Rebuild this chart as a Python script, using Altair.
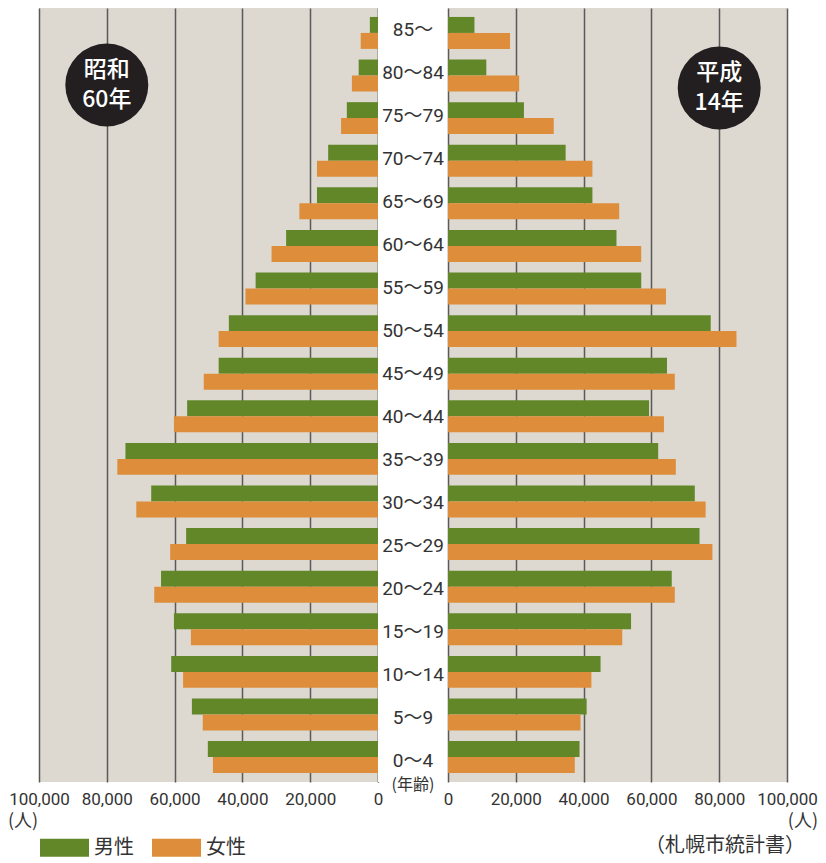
import altair as alt
import pandas as pd

ages = ["85〜", "80〜84", "75〜79", "70〜74", "65〜69", "60〜64", "55〜59", "50〜54", "45〜49",
        "40〜44", "35〜39", "30〜34", "25〜29", "20〜24", "15〜19", "10〜14", "5〜9", "0〜4"]
s60_male = [2400, 5700, 9200, 14700, 18000, 27100, 36100, 44000, 47000,
            56300, 74500, 66900, 56600, 64000, 60200, 61000, 54900, 50200]
s60_female = [5100, 7700, 10900, 18000, 23200, 31400, 39100, 47000, 51400,
              60200, 76900, 71300, 61300, 66000, 55200, 57500, 51700, 48700]
h14_male = [7800, 11300, 22400, 34700, 42600, 49700, 57000, 77500, 64600,
            59300, 62000, 72800, 74200, 66000, 54000, 45000, 40900, 38800]
h14_female = [18300, 21000, 31200, 42600, 50500, 57000, 64300, 85100, 66900,
              63700, 67200, 76000, 78000, 66900, 51400, 42300, 39100, 37400]
ticks = [0, 20000, 40000, 60000, 80000, 100000]
sexes = ["男性", "女性"]
colors = ["#628728", "#de8e3a"]

rows = []
for key, m, f in [("S60", s60_male, s60_female), ("H14", h14_male, h14_female)]:
    for a, mv, fv in zip(ages, m, f):
        rows.append({"panel": key, "age": a, "sex": "男性", "value": mv})
        rows.append({"panel": key, "age": a, "sex": "女性", "value": fv})
df = pd.DataFrame(rows)

NUM_FONT = "Roboto, Noto Sans CJK JP, sans-serif"
CJK_FONT = "Noto Sans CJK JP"
TEXT = "#333333"
W, H, MID = 339, 774, 70
BG = "#ddd9d1"

yscale = alt.Scale(domain=ages, paddingInner=0.25, paddingOuter=0.21)


def txt(t, x, y, align, size=18, font=CJK_FONT):
    return alt.Chart(pd.DataFrame({"t": [t]})).mark_text(
        font=font, fontSize=size, color=TEXT, align=align, baseline="middle"
    ).encode(text="t:N", x=alt.value(x), y=alt.value(y))


def panel(key, reverse, badge, badge_y, legend, extras):
    grid_color = ({"condition": {"test": "datum.value === 0", "value": "#1e1e1e"}, "value": "#5a5a5a"}
                  if reverse else "#5a5a5a")
    xaxis = alt.Axis(values=ticks, format=",.0f", title=None, grid=True, gridColor=grid_color,
                     gridWidth=1.5, domain=False, ticks=False, labelFont=NUM_FONT,
                     labelFontSize=17, labelColor=TEXT, labelPadding=9, labelFlush=False,
                     labelOverlap=False, labelBound=False)
    leg = alt.Legend(title=None, orient="none", legendX=1, legendY=815, direction="horizontal",
                     symbolType="M-1,-0.367H1V0.367H-1Z", symbolSize=2401, symbolStrokeWidth=0,
                     labelFont=CJK_FONT, labelFontSize=20, labelColor=TEXT, labelOffset=5,
                     columnPadding=18, symbolOpacity=1) if legend else None
    bars = alt.Chart(df[df.panel == key]).mark_bar().encode(
        x=alt.X("value:Q", scale=alt.Scale(domain=[0, 100000], reverse=reverse, nice=False), axis=xaxis),
        y=alt.Y("age:N", sort=ages, scale=yscale, axis=None),
        yOffset=alt.YOffset("sex:N", sort=sexes,
                            scale=alt.Scale(domain=sexes, paddingInner=0, paddingOuter=0)),
        color=alt.Color("sex:N", scale=alt.Scale(domain=sexes, range=colors), legend=leg),
    )
    bdf = pd.DataFrame({"value": [80000], "l1": [badge[0]], "l2": [badge[1]]})
    circle = alt.Chart(bdf).mark_point(shape="circle", filled=True, size=6889, color="#231f20",
                                       opacity=1, strokeWidth=0).encode(
        x="value:Q", y=alt.value(badge_y))
    line1 = alt.Chart(bdf).mark_text(font=CJK_FONT, fontSize=23, fontWeight=500, color="white",
                                     align="center", baseline="middle").encode(
        x="value:Q", y=alt.value(badge_y - 15), text="l1:N")
    line2 = alt.Chart(bdf).mark_text(font=CJK_FONT, fontSize=23, fontWeight=500, color="white",
                                     align="center", baseline="middle").encode(
        x="value:Q", y=alt.value(badge_y + 15), text="l2:N")
    return alt.layer(bars, circle, line1, line2, *extras).properties(
        width=W, height=H, view=alt.ViewBackground(fill=BG, stroke=None))


left = panel("S60", True, ("昭和", "60年"), 77, True, [txt("(人)", -31, 814, "left")])
right = panel("H14", False, ("平成", "14年"), 80, False,
              [txt("(人)", 370, 814, "right"), txt("（札幌市統計書）", 357, 838, "right", size=20)])

center = alt.layer(
    alt.Chart(pd.DataFrame({"age": ages})).mark_text(
        font=NUM_FONT, fontSize=19, color=TEXT, baseline="middle").encode(
        y=alt.Y("age:N", sort=ages, scale=yscale, axis=None), text="age:N", x=alt.value(MID / 2)),
    txt("(年齢)", MID / 2, 777, "center", size=16),
).properties(width=MID, height=H, view=alt.ViewBackground(fill="white", stroke=None))

chart = alt.hconcat(left, center, right, spacing=0).properties(
    bounds="flush", padding=0
).configure_view(stroke=None)

chart.save("out.html", embed_options={"renderer": "svg", "actions": False})
